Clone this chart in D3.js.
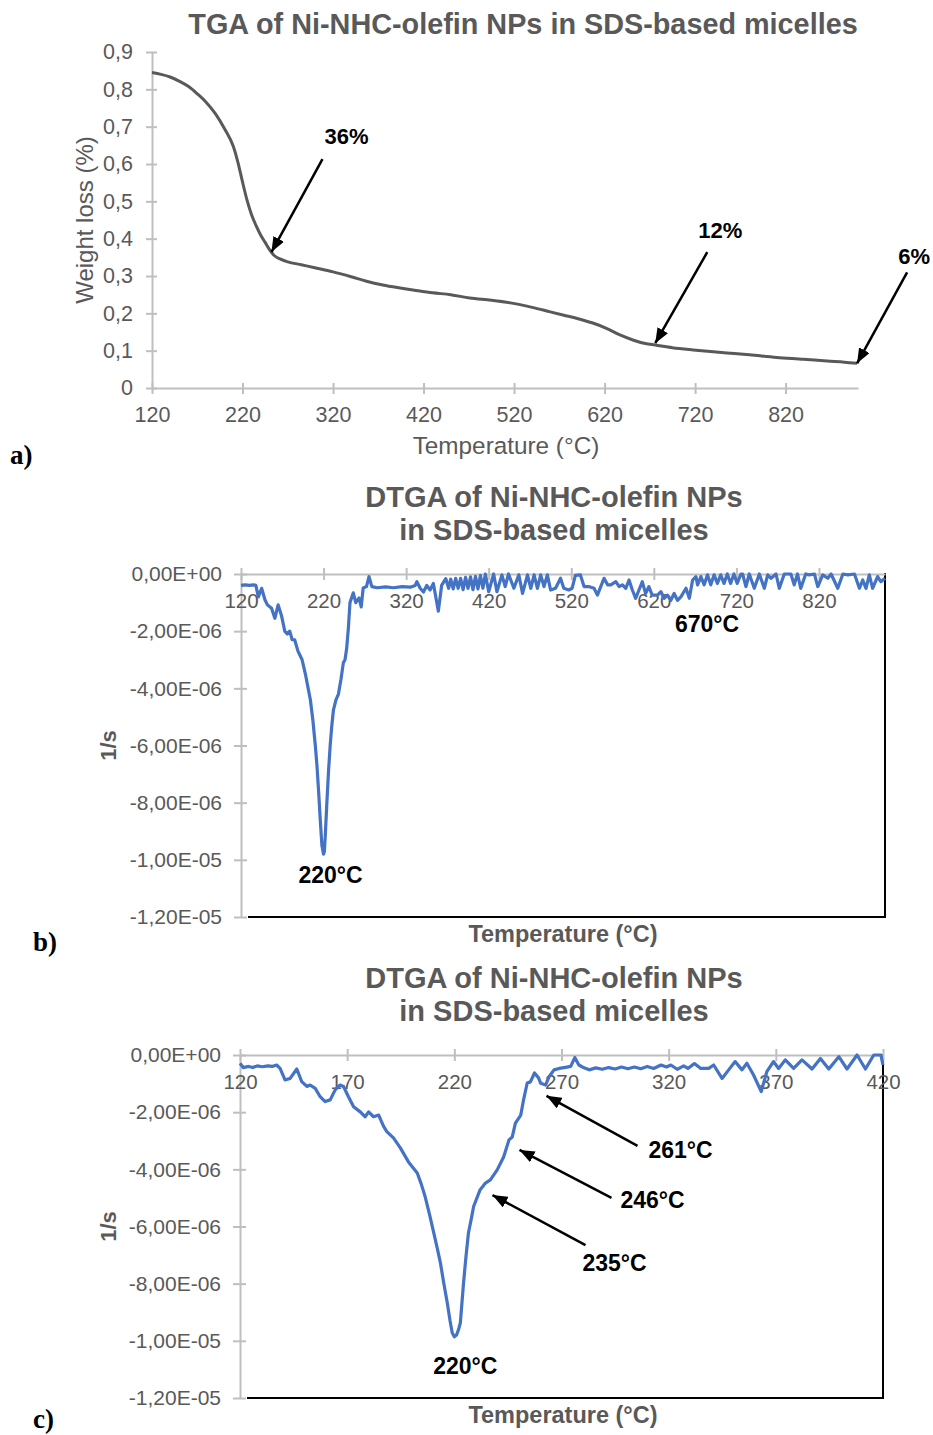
<!DOCTYPE html>
<html>
<head>
<meta charset="utf-8">
<script src="https://cdn.jsdelivr.net/npm/d3@7"></script>
<style>
    body { margin: 0; background: #fff; }
    svg text { font-family: "Liberation Sans", Arial, sans-serif; }
</style>
</head>
<body>
<div id="chart"></div>
<script>

// a) TGA curve
let tgaTemp = [120, 130, 140, 150, 160, 170, 180, 190, 200, 210, 215, 220, 225, 230, 235, 240, 245, 250, 255, 262,
    270, 285, 300, 320, 340, 357, 375, 394, 410, 430, 450, 471, 495, 516, 540, 560, 575, 590, 607, 622,
    637, 652, 665, 676, 695, 718, 740, 755, 780, 810, 840, 866, 885, 899];
let tgaWeight = [0.845, 0.840, 0.833, 0.822, 0.808, 0.788, 0.765, 0.735, 0.695, 0.646, 0.604, 0.552, 0.503, 0.464, 0.435, 0.410, 0.390, 0.370, 0.355, 0.345,
    0.338, 0.330, 0.322, 0.311, 0.298, 0.286, 0.276, 0.268, 0.262, 0.255, 0.250, 0.241, 0.235, 0.228, 0.216, 0.204, 0.195, 0.186, 0.174, 0.160,
    0.142, 0.128, 0.119, 0.115, 0.108, 0.102, 0.097, 0.094, 0.089, 0.082, 0.077, 0.072, 0.069, 0.066];
let tgaXTicks = [120, 220, 320, 420, 520, 620, 720, 820];
let tgaYTicks = [0, 0.1, 0.2, 0.3, 0.4, 0.5, 0.6, 0.7, 0.8, 0.9];
let tgaYTickLabels = ["0", "0,1", "0,2", "0,3", "0,4", "0,5", "0,6", "0,7", "0,8", "0,9"];
let tgaNotes = ["36%", "12%", "6%"];
let tgaNoteTemp = [252, 676, 899];
let tgaNoteWeight = [0.364, 0.12, 0.066];

// b) DTGA 120-900 (values in 1e-6 1/s)
let dtgaTempB = [120, 125, 130, 135, 138, 141, 145, 149, 152, 157, 161, 165, 169, 173, 176, 179, 182, 185, 189, 194,
    198, 201, 204, 207, 210, 212, 214, 216, 218, 220, 221, 222, 224, 226, 228, 230, 232, 235, 238, 241,
    244, 246, 248, 250, 252, 256, 259, 263, 265.6, 268, 272, 275, 278.5, 285, 295, 305, 315, 325, 331, 333,
    337, 341, 345, 349, 353, 359, 363, 368, 371.5, 374, 377, 380, 383, 386, 389, 392, 395, 398, 401, 404,
    407, 410, 413, 416, 420, 426, 430, 436, 440, 444, 450.5, 456.5, 461, 467, 471, 475, 479, 483, 487, 491,
    495, 501, 507, 511, 517, 521, 525, 531, 535.5, 541, 547.6, 551.7, 555.7, 559.7, 564, 568, 574, 578, 582, 586,
    590, 594, 598, 602, 606, 610, 614, 618, 624.5, 628.6, 632.5, 636.5, 640.6, 644.6, 648.7, 652.8, 659, 663, 667, 671,
    673, 677, 681, 685, 689, 693, 697, 701, 705, 709, 713, 717, 721, 725.5, 727.5, 731.6, 735.6, 741.7, 747.8, 753.8,
    757.9, 762, 768, 772, 778, 786, 790, 794, 798, 804, 808, 814.5, 818.6, 824.6, 830.7, 834.7, 842.8, 849, 855, 863,
    869, 873, 877, 881, 885, 891, 895, 900];
let dtgaRateB = [-0.40, -0.38, -0.40, -0.38, -0.40, -0.80, -0.50, -0.90, -1.08, -1.20, -1.55, -1.08, -1.45, -2.00, -2.10, -2.00, -2.30, -2.30, -2.70, -3.00,
    -3.50, -3.95, -4.40, -5.10, -6.00, -6.70, -7.60, -8.60, -9.50, -9.80, -9.70, -9.20, -8.00, -6.90, -6.00, -5.30, -4.75, -4.40, -4.20, -3.70,
    -3.10, -3.00, -2.60, -1.90, -1.00, -0.66, -1.00, -0.84, -1.15, -0.49, -0.44, -0.09, -0.44, -0.48, -0.45, -0.48, -0.44, -0.46, -0.40, -0.27,
    -0.50, -0.63, -0.40, -0.56, -0.33, -1.30, -0.40, -0.16, -0.50, -0.18, -0.52, -0.15, -0.50, -0.15, -0.55, -0.12, -0.50, -0.10, -0.55, -0.08,
    -0.52, -0.05, -0.50, 0, -0.62, 0, -0.62, -0.03, -0.44, 0, -0.50, -0.03, -0.68, -0.03, -0.50, -0.03, -0.50, -0.03, -0.44, -0.03,
    -0.56, -0.50, -0.15, -0.50, -0.56, -0.50, -0.05, -0.03, -0.44, -0.44, -0.50, -0.74, -0.44, -0.15, -0.38, -0.38, -0.27, -0.44, -0.38, -0.50,
    -0.21, -0.56, -0.85, -0.56, -0.27, -0.68, -0.44, -0.74, -0.74, -0.62, -0.85, -0.74, -0.92, -0.68, -0.92, -0.80, -0.50, -0.85, -0.21, -0.09,
    -0.38, -0.09, -0.38, -0.03, -0.38, -0.03, -0.33, -0.03, -0.33, 0, -0.33, 0, -0.33, 0, 0, -0.44, 0, -0.50, 0, -0.50,
    -0.03, -0.15, 0, -0.50, 0, 0, -0.38, 0, -0.50, 0, -0.03, 0, -0.44, -0.03, -0.15, 0, -0.50, 0, -0.03, 0,
    -0.50, -0.21, -0.50, -0.03, -0.50, -0.09, -0.27, -0.15];
let dtgaXTicksB = [120, 220, 320, 420, 520, 620, 720, 820];

// c) DTGA 120-420 (values in 1e-6 1/s)
let dtgaTempC = [120, 121.5, 124, 126, 128, 130.4, 133, 135, 137.1, 138.7, 141, 143.4, 146.5, 148.8, 151.2, 152.7, 155.1, 157.4, 159.7, 162.1,
    164.4, 166.7, 168.3, 170.6, 173, 176.1, 178.4, 180, 182.3, 184.7, 187, 188.5, 191.6, 194.8, 198.6, 202.7, 204.5, 206.4, 208.5, 210.4,
    212, 213.5, 215, 216.7, 218, 219, 220, 221, 222, 222.8, 224.3, 225.5, 226.6, 228, 229, 232, 234.5, 236.8, 240, 243,
    245.5, 247, 248.5, 251, 252.3, 254, 255.5, 257.4, 259.3, 260.3, 262.6, 264.2, 266.5, 268.9, 271.2, 274.3, 276.2, 278.1, 280.5, 282.9,
    286, 289, 292, 295, 298, 301, 304, 307, 310, 313, 316.4, 319, 321, 324, 327, 329, 332, 335, 338.7, 341,
    344.9, 348, 351, 354.2, 356.5, 359.6, 363.2, 365.8, 368.9, 371.3, 374.4, 378.3, 382.2, 386.9, 390.8, 394.7, 399.4, 403.2, 407.9, 411.8,
    415.7, 419, 420];
let dtgaRateC = [-0.29, -0.44, -0.40, -0.44, -0.38, -0.41, -0.38, -0.40, -0.35, -0.47, -0.87, -0.82, -0.49, -0.93, -1.10, -1.05, -1.17, -1.46, -1.63, -1.57,
    -1.22, -1.05, -1.10, -1.46, -1.81, -1.99, -2.16, -1.99, -2.16, -2.10, -2.50, -2.68, -2.90, -3.25, -3.74, -4.13, -4.50, -4.96, -5.60, -6.22,
    -6.75, -7.27, -7.95, -8.67, -9.30, -9.72, -9.86, -9.80, -9.60, -9.37, -7.97, -7.00, -6.22, -5.70, -5.30, -4.72, -4.48, -4.37, -4.02, -3.57,
    -2.97, -2.87, -2.38, -2.10, -1.57, -0.98, -0.94, -0.63, -0.80, -0.99, -1.05, -0.76, -0.52, -0.47, -0.44, -0.40, -0.09, -0.35, -0.45, -0.52,
    -0.45, -0.50, -0.44, -0.49, -0.42, -0.48, -0.42, -0.48, -0.40, -0.47, -0.35, -0.42, -0.35, -0.50, -0.38, -0.47, -0.30, -0.47, -0.47, -0.35,
    -0.82, -0.52, -0.23, -0.52, -0.29, -0.70, -1.28, -0.58, -0.23, -0.47, -0.17, -0.47, -0.17, -0.49, -0.12, -0.49, -0.06, -0.49, 0, -0.49,
    0, 0, -0.35];
let dtgaXTicksC = [120, 170, 220, 270, 320, 370, 420];

let dtgaYTicks = [0, -2, -4, -6, -8, -10, -12];
let dtgaYTickLabels = ["0,00E+00", "-2,00E-06", "-4,00E-06", "-6,00E-06", "-8,00E-06", "-1,00E-05", "-1,20E-05"];

let peakNotesB = ["220°C", "670°C"];
let peakTempB = [220, 670];
let peakRateB = [-9.8, -0.5];
let peakNotesC = ["220°C", "235°C", "246°C", "261°C"];
let peakTempC = [220, 237.8, 250.4, 263];
let peakRateC = [-9.86, -4.9, -3.32, -1.43];

let grey = "#595959";
let axisGrey = "#bfbfbf";
let blue = "#4472c4";

let svg = d3.select("#chart")
    .append("svg")
    .attr("width", 933)
    .attr("height", 1435);

svg.append("defs").append("marker")
    .attr("id", "head")
    .attr("markerUnits", "userSpaceOnUse")
    .attr("markerWidth", 16)
    .attr("markerHeight", 12)
    .attr("refX", 15)
    .attr("refY", 6)
    .attr("orient", "auto")
    .append("path")
    .attr("d", "M0,0 L15,6 L0,12 Z")
    .attr("fill", "#000");

function styleAxis(g, size) {
    g.select(".domain").attr("stroke", axisGrey).attr("stroke-width", 2);
    g.selectAll(".tick line").attr("stroke", axisGrey).attr("stroke-width", 2);
    g.selectAll(".tick text")
        .attr("fill", grey)
        .attr("font-size", size + "px");
}

function arrow(x1, y1, x2, y2) {
    svg.append("line")
        .attr("x1", x1).attr("y1", y1)
        .attr("x2", x2).attr("y2", y2)
        .attr("stroke", "#000")
        .attr("stroke-width", 2.5)
        .attr("marker-end", "url(#head)");
}

function label(txt, x, y, opts) {
    let t = svg.append("text")
        .text(txt)
        .attr("x", x)
        .attr("y", y)
        .attr("text-anchor", opts.anchor || "middle")
        .attr("font-size", opts.size + "px")
        .attr("font-weight", opts.bold ? "bold" : "normal")
        .attr("fill", opts.color || grey);
    if (opts.rotate) {
        t.attr("transform", "rotate(-90," + x + "," + y + ")");
    }
    if (opts.serif) {
        t.style("font-family", "'Liberation Serif', 'Times New Roman', serif");
    }
    return t;
}

// ---------- panel a ----------
let xA = d3.scaleLinear().domain([120, 900]).range([152, 858]);
let yA = d3.scaleLinear().domain([0, 0.9]).range([388, 52]);

let gyA = svg.append("g")
    .attr("transform", "translate(152,0)")
    .call(d3.axisLeft(yA).tickValues(tgaYTicks)
        .tickFormat(function (d, i) { return tgaYTickLabels[i]; })
        .tickSize(6).tickSizeOuter(0).tickPadding(13));
gyA.selectAll(".tick line").attr("x1", 5);
styleAxis(gyA, 21.5);

let gxA = svg.append("g")
    .attr("transform", "translate(0,388)")
    .call(d3.axisBottom(xA).tickValues(tgaXTicks)
        .tickFormat(d3.format("d"))
        .tickSize(6).tickSizeOuter(0).tickPadding(13));
gxA.selectAll(".tick line").attr("y1", -5);
styleAxis(gxA, 21.5);

svg.append("path")
    .datum(d3.zip(tgaTemp, tgaWeight))
    .attr("fill", "none")
    .attr("stroke", grey)
    .attr("stroke-width", 3)
    .attr("d", d3.line()
        .curve(d3.curveMonotoneX)
        .x(function (d) { return xA(d[0]); })
        .y(function (d) { return yA(d[1]); }));

label("TGA of Ni-NHC-olefin NPs in SDS-based micelles", 523, 34, {size: 28.8, bold: true});
label("Temperature (°C)", 506, 454, {size: 24.3});
label("Weight loss (%)", 93, 220, {size: 24, rotate: true});
label("a)", 10, 464, {size: 27, bold: true, serif: true, color: "#000", anchor: "start"});

// arrow tail and text offsets from the pointed position
let tgaNoteOffsets = [[51, -93, 75, -108], [52, -91, 65, -105], [50, -91, 57, -99]];
tgaNotes.forEach(function (n, i) {
    let px = xA(tgaNoteTemp[i]);
    let py = yA(tgaNoteWeight[i]);
    let o = tgaNoteOffsets[i];
    arrow(px + o[0], py + o[1], px, py);
    label(n, px + o[2], py + o[3], {size: 22, bold: true, color: "#000"});
});

// ---------- panels b and c ----------
function drawDtga(cfg) {
    let x = d3.scaleLinear().domain(cfg.domain).range([cfg.left, cfg.right]);
    let y = d3.scaleLinear().domain([0, -12]).range([cfg.top, cfg.bottom]);

    // black frame on bottom and right
    svg.append("path")
        .attr("d", "M" + (cfg.left + 7) + "," + cfg.bottom + "H" + cfg.right + "V" + (cfg.top - 1))
        .attr("fill", "none")
        .attr("stroke", "#000")
        .attr("stroke-width", 2);

    let gy = svg.append("g")
        .attr("transform", "translate(" + cfg.left + ",0)")
        .call(d3.axisLeft(y).tickValues(dtgaYTicks)
            .tickFormat(function (d, i) { return dtgaYTickLabels[i]; })
            .tickSize(7).tickSizeOuter(0).tickPadding(12));
    gy.selectAll(".tick line").attr("x1", 6);
    styleAxis(gy, 21);

    let gx = svg.append("g")
        .attr("transform", "translate(0," + cfg.top + ")")
        .call(d3.axisBottom(x).tickValues(cfg.ticks)
            .tickFormat(d3.format("d"))
            .tickSize(6).tickSizeOuter(0).tickPadding(13));
    gx.selectAll(".tick line").attr("y1", -6);
    styleAxis(gx, 20.5);

    svg.append("path")
        .datum(d3.zip(cfg.temp, cfg.rate))
        .attr("fill", "none")
        .attr("stroke", blue)
        .attr("stroke-width", 3.2)
        .attr("stroke-linejoin", "round")
        .attr("d", d3.line()
            .x(function (d) { return x(d[0]); })
            .y(function (d) { return y(d[1]); }));

    let mid = 554;
    label("DTGA of Ni-NHC-olefin NPs", mid, cfg.top - 67, {size: 29, bold: true});
    label("in SDS-based micelles", mid, cfg.top - 34, {size: 29, bold: true});
    label("Temperature (°C)", 563, cfg.bottom + 25, {size: 23.5, bold: true});
    label("1/s", 116, (cfg.top + cfg.bottom) / 2, {size: 22, bold: true, rotate: true});
    label(cfg.letter, 33, cfg.bottom + cfg.letterDy, {size: 27, bold: true, serif: true, color: "#000", anchor: "start"});

    cfg.notes.forEach(function (n, i) {
        let px = x(cfg.noteTemp[i]);
        let py = y(cfg.noteRate[i]);
        let o = cfg.offsets[i];
        if (o.length > 2) {
            arrow(px + o[2], py + o[3], px, py);
        }
        label(n, px + o[0], py + o[1], {size: 23, bold: true, color: "#000", anchor: o.length > 2 ? "start" : "middle"});
    });
}

drawDtga({
    domain: [120, 900], left: 241, right: 885, top: 574, bottom: 917,
    ticks: dtgaXTicksB, temp: dtgaTempB, rate: dtgaRateB, letter: "b)", letterDy: 34,
    notes: peakNotesB, noteTemp: peakTempB, noteRate: peakRateB,
    offsets: [[7, 29], [12, 44]]
});

drawDtga({
    domain: [120, 420], left: 240, right: 883, top: 1055, bottom: 1398,
    ticks: dtgaXTicksC, temp: dtgaTempC, rate: dtgaRateC, letter: "c)", letterDy: 30,
    notes: peakNotesC, noteTemp: peakTempC, noteRate: peakRateC,
    offsets: [[11, 37], [90, 76, 93, 50], [101, 58, 92, 48], [102, 62, 91, 50]]
});

</script>
</body>
</html>
